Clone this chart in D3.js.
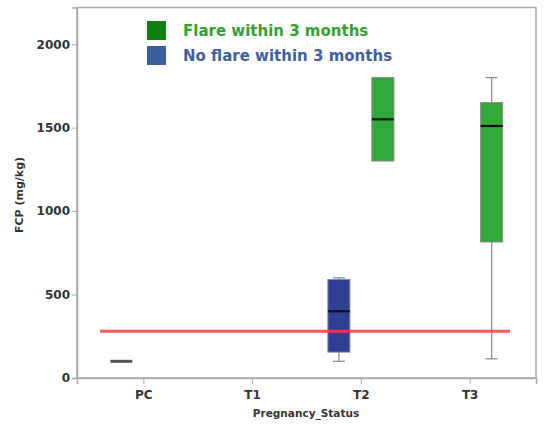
<!DOCTYPE html>
<html><head><meta charset="utf-8">
<script src="https://cdn.jsdelivr.net/npm/d3@7"></script>
<style>body{margin:0;background:#fff;} text{font-family:"DejaVu Sans",Verdana,sans-serif;}</style>
</head><body>
<svg id="c" width="547" height="428"></svg>
<script>
const categories = ["PC", "T1", "T2", "T3"];
const groups = ["No flare within 3 months", "Flare within 3 months"];
const groupColors = ["#2e3f96", "#33a83a"];
const legendColors = ["#3a5f9a", "#0f7f14"];
const legendTextColors = ["#3f5fa0", "#34a034"];
// box stats per box
const boxCategory = ["PC", "T2", "T2", "T3"];
const boxGroup = [0, 0, 1, 1];
const boxLow = [100, 100, 1300, 115];
const boxQ1 = [100, 155, 1300, 815];
const boxMedian = [100, 400, 1550, 1510];
const boxQ3 = [100, 590, 1800, 1650];
const boxHigh = [100, 600, 1800, 1800];
const yTicks = [0, 500, 1000, 1500, 2000];
const refValue = 280;

const svg = d3.select("#c");
const L = 77, R = 536, T = 7.5, B = 378;
const x = d3.scalePoint().domain(categories).range([L, R]).padding(0.61);
const y = d3.scaleLinear().domain([0, 2220]).range([B, T]);
const off = d3.scalePoint().domain([0, 1]).range([-22, 22]);
const bw = 22;

// frame
svg.append("rect").attr("x", L).attr("y", T).attr("width", R - L).attr("height", B - T)
  .attr("fill", "none").attr("stroke", "#aaa").attr("stroke-width", 1.5);

// y axis
const ya = svg.append("g").attr("transform", `translate(${L},0)`)
  .call(d3.axisLeft(y).tickValues(yTicks).tickSize(5).tickPadding(2).tickFormat(d3.format("d")));
ya.select(".domain").attr("stroke", "#aaa").attr("stroke-width", 1.5);
ya.selectAll(".tick line").attr("stroke", "#aaa");
ya.selectAll(".tick text").attr("fill", "#333").attr("font-size", 12).attr("font-weight", "bold");

// x axis
const xa = svg.append("g").attr("transform", `translate(0,${B})`)
  .call(d3.axisBottom(x).tickSize(6).tickPadding(6));
xa.select(".domain").attr("stroke", "#aaa").attr("stroke-width", 1.5);
xa.selectAll(".tick line").attr("stroke", "#aaa");
xa.selectAll(".tick text").attr("fill", "#333").attr("font-size", 12).attr("font-weight", "bold");

// axis titles
svg.append("text").attr("x", 306).attr("y", 417).attr("text-anchor", "middle")
  .attr("font-size", 10.5).attr("font-weight", "bold").attr("fill", "#333").text("Pregnancy_Status");
svg.append("text").attr("transform", `translate(23,195) rotate(-90)`)
  .attr("text-anchor", "middle").attr("font-size", 11).attr("font-weight", "bold").attr("fill", "#333")
  .text("FCP (mg/kg)");

// boxes
boxCategory.forEach((c, i) => {
  const cx = x(c) + off(boxGroup[i]);
  const g = svg.append("g");
  if (boxQ3[i] === boxQ1[i]) {
    g.append("line").attr("x1", cx - bw / 2).attr("x2", cx + bw / 2)
      .attr("y1", y(boxMedian[i])).attr("y2", y(boxMedian[i]))
      .attr("stroke", "#555").attr("stroke-width", 3);
    return;
  }
  [[boxHigh[i], boxQ3[i]], [boxLow[i], boxQ1[i]]].forEach(([w, q]) => {
    if (w === q) return;
    g.append("line").attr("x1", cx).attr("x2", cx).attr("y1", y(w)).attr("y2", y(q))
      .attr("stroke", "#888").attr("stroke-width", 1.2);
    g.append("line").attr("x1", cx - 6).attr("x2", cx + 6).attr("y1", y(w)).attr("y2", y(w))
      .attr("stroke", "#888").attr("stroke-width", 1.2);
  });
  g.append("rect").attr("x", cx - bw / 2).attr("width", bw)
    .attr("y", y(boxQ3[i])).attr("height", y(boxQ1[i]) - y(boxQ3[i]))
    .attr("fill", groupColors[boxGroup[i]]).attr("stroke", "#888").attr("stroke-width", 1);
  g.append("line").attr("x1", cx - bw / 2).attr("x2", cx + bw / 2)
    .attr("y1", y(boxMedian[i])).attr("y2", y(boxMedian[i]))
    .attr("stroke", "#111").attr("stroke-width", 2.2);
});

// reference line
svg.append("line").attr("x1", 100).attr("x2", 510).attr("y1", y(refValue)).attr("y2", y(refValue))
  .attr("stroke", "#ff3b3b").attr("stroke-opacity", 0.85).attr("stroke-width", 3);

// legend
const legOrder = [1, 0];
legOrder.forEach((gi, k) => {
  const ly = 21 + k * 25;
  svg.append("rect").attr("x", 147).attr("y", ly).attr("width", 19).attr("height", 19)
    .attr("fill", legendColors[gi]);
  svg.append("text").attr("x", 183).attr("y", ly + 15).attr("font-size", 15).attr("font-weight", "bold")
    .attr("fill", legendTextColors[gi]).text(groups[gi]);
});
</script>
</body></html>
